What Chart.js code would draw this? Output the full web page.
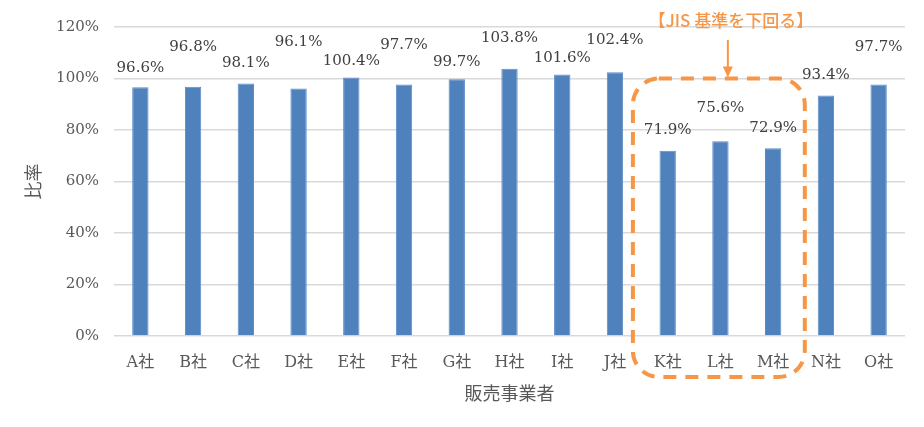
<!DOCTYPE html>
<html lang="ja">
<head>
<meta charset="utf-8">
<script src="https://cdn.jsdelivr.net/npm/chart.js@4/dist/chart.umd.min.js"></script>
<style>
  html, body { margin: 0; padding: 0; background: #fff; }
  #wrap { width: 924px; height: 427px; }
</style>
</head>
<body>
<div id="wrap"><canvas id="ratioChart"></canvas></div>
<script>
// データ
const companies = ['A社', 'B社', 'C社', 'D社', 'E社', 'F社', 'G社', 'H社', 'I社', 'J社', 'K社', 'L社', 'M社', 'N社', 'O社'];
const ratios = [96.6, 96.8, 98.1, 96.1, 100.4, 97.7, 99.7, 103.8, 101.6, 102.4, 71.9, 75.6, 72.9, 93.4, 97.7];
const yTicks = [0, 20, 40, 60, 80, 100, 120];
const belowJis = ['K社', 'L社', 'M社'];
const noteText = '【JIS 基準を下回る】';

// ラベルの持ち上げ量 (px) - 重ならないようにずらす
const labelLift = [19, 40, 20, 46, 16, 39, 17, 31, 16, 32, 21, 33, 20, 20, 37];

const serif = '"DejaVu Serif", "Noto Sans CJK JP", serif';
const gothic = '"Noto Sans CJK JP", sans-serif';

// 棒の上に値を描く
const valueLabels = {
    id: 'valueLabels',
    afterDatasetsDraw(chart) {
        const ctx = chart.ctx;
        const meta = chart.getDatasetMeta(0);
        ctx.save();
        ctx.font = '15px ' + serif;
        ctx.fillStyle = '#404040';
        ctx.textAlign = 'center';
        ctx.textBaseline = 'middle';
        meta.data.forEach((bar, i) => {
            ctx.fillText(ratios[i].toFixed(1) + '%', bar.x, bar.y - labelLift[i]);
        });
        ctx.restore();
    }
};

// JIS基準を下回る枠と矢印
const jisNote = {
    id: 'jisNote',
    afterDraw(chart) {
        const ctx = chart.ctx;
        const x = chart.scales.x;
        const y = chart.scales.y;
        const first = companies.indexOf(belowJis[0]);
        const last = companies.indexOf(belowJis[belowJis.length - 1]);
        const step = x.getPixelForValue(1) - x.getPixelForValue(0);
        const left = x.getPixelForValue(first) - 0.66 * step;
        const right = x.getPixelForValue(last) + 0.6 * step;
        const top = y.getPixelForValue(100);
        const bottom = y.bottom + 41;
        const r = 26;

        ctx.save();
        ctx.strokeStyle = '#F79646';
        ctx.lineWidth = 4;
        ctx.setLineDash([13, 9]);
        ctx.beginPath();
        ctx.roundRect(left, top, right - left, bottom - top, r);
        ctx.stroke();

        // 矢印
        const mid = (left + right) / 2 + 9;
        ctx.setLineDash([]);
        ctx.lineWidth = 2;
        ctx.beginPath();
        ctx.moveTo(mid, 40);
        ctx.lineTo(mid, top - 10);
        ctx.stroke();
        ctx.fillStyle = '#F79646';
        ctx.beginPath();
        ctx.moveTo(mid - 5, top - 12);
        ctx.lineTo(mid + 5, top - 12);
        ctx.lineTo(mid, top - 1);
        ctx.closePath();
        ctx.fill();

        ctx.font = '500 17px ' + gothic;
        ctx.textAlign = 'center';
        ctx.textBaseline = 'middle';
        ctx.fillText(noteText, mid + 3, 21);
        ctx.restore();
    }
};

const ctx1 = document.getElementById('ratioChart').getContext('2d');
const ratioChart = new Chart(ctx1, {
    type: 'bar',
    data: {
        labels: companies,
        datasets: [{
            label: '比率',
            data: ratios,
            backgroundColor: '#4F81BD',
            borderColor: '#5B8BC6',
            borderWidth: 1,
            categoryPercentage: 1,
            barPercentage: 0.31
        }]
    },
    options: {
        responsive: true,
        maintainAspectRatio: false,
        animation: false,
        layout: { padding: { top: 27, right: 19, bottom: 0, left: 0 } },
        plugins: {
            legend: { display: false },
            tooltip: { enabled: false }
        },
        scales: {
            x: {
                grid: { display: false, drawTicks: false },
                border: { display: false },
                ticks: {
                    color: '#595959',
                    font: { family: serif, size: 16 },
                    padding: 17,
                    maxRotation: 0,
                    autoSkip: false
                },
                title: {
                    display: true,
                    text: '販売事業者',
                    color: '#595959',
                    font: { family: gothic, size: 18 },
                    padding: { top: 0, bottom: 23 }
                },
                afterFit(scale) { scale.height = 91; }
            },
            y: {
                min: 0,
                max: 120,
                afterBuildTicks(scale) {
                    scale.ticks = yTicks.map(v => ({ value: v }));
                },
                grid: { color: '#D9D9D9', lineWidth: 1.5, drawTicks: false },
                border: { display: false },
                ticks: {
                    color: '#595959',
                    font: { family: serif, size: 15 },
                    padding: 15,
                    callback: v => v + '%'
                },
                title: {
                    display: true,
                    text: '比率',
                    color: '#595959',
                    font: { family: gothic, size: 18 },
                    padding: { top: 22, bottom: 0 }
                },
                afterFit(scale) { scale.width = 114; }
            }
        }
    },
    plugins: [valueLabels, jisNote]
});
</script>
</body>
</html>
